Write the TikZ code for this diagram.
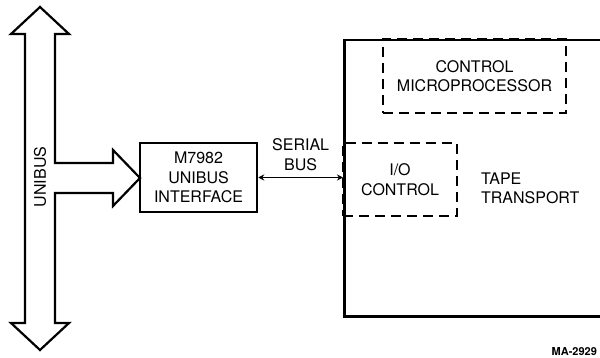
\documentclass[tikz,border=0pt]{standalone}
\usepackage{fontspec}
\setmainfont{TeX Gyre Heros}
\usetikzlibrary{math}
\usetikzlibrary{positioning,arrows.meta,calc}

\tikzset{
  block/.style={draw, line width=2.5pt, align=center, inner sep=0pt},
  dashblock/.style={draw, line width=2.2pt, dash pattern=on 10pt off 6pt, align=center, inner sep=0pt},
}

\begin{document}
\begin{tikzpicture}[x=1pt, y=-1pt, font=\fontsize{16}{19.5}\selectfont, line width=2.2pt]
\useasboundingbox (0,0) rectangle (600,358);

%corner points of the unibus outline
\tikzmath{
\bx=40;        %middle of the bus
\bw=15;        %half width of the shaft
\hw=29;        %half width of the heads
\tipa=7; \tipb=350; \hd=27;   %tips and head length
coordinate \p;
\p1=(\bx,\tipa);
\p2=(\bx+\hw,\tipa+\hd);
\p3=(\bx+\bw,\tipa+\hd);
\p4=(\bx-\hw,\tipa+\hd);
\p5=(\bx-\bw,\tipa+\hd);
\p6=(\bx,\tipb);
\p7=(\bx+\hw,\tipb-\hd);
\p8=(\bx+\bw,\tipb-\hd);
\p9=(\bx-\hw,\tipb-\hd);
\p0=(\bx-\bw,\tipb-\hd);
}

%unibus with its branch into the interface
\draw[line join=miter] (\p1) -- (\p2) -- (\p3) -- (\bx+\bw,163) -- (113,163) -- (113,150)
  -- (140,178) -- (113,206) -- (113,193) -- (\bx+\bw,193) -- (\p8) -- (\p7) -- (\p6)
  -- (\p9) -- (\p0) -- (\p5) -- (\p4) -- cycle;
\node[rotate=90] (buslbl) at (\bx,177) {UNIBUS};

%interface board
\node[block, minimum width=117pt, minimum height=69pt] (iface) at (198.5,177.5) {M7982\\UNIBUS\\INTERFACE};

%parts inside the transport
\node[dashblock, minimum width=183pt, minimum height=74pt] (ctrl) at (474.5,76) {CONTROL\\MICROPROCESSOR};
\node[dashblock, minimum width=114pt, minimum height=73pt] (io) at (400,179.5) {I/O\\CONTROL};

%tape transport, running off the right edge
\node[block, minimum width=320pt, minimum height=276pt, anchor=north west] (tape) at (343,39) {};
\node[align=left, anchor=west, inner sep=0pt] (tapelbl) at (480,188.5) {TAPE\\TRANSPORT};

%serial bus
\draw[{Stealth[length=6pt,width=6pt]}-{Stealth[length=6pt,width=6pt]}, line width=1.6pt]
  (iface.east) -- (iface.east -| tape.west) node[midway, above=3pt, align=center] (serlbl) {SERIAL\\BUS};

\node[anchor=base east, inner sep=0pt, font=\bfseries\fontsize{11}{13}\selectfont] (fig) at (598,355) {MA-2929};

\end{tikzpicture}
\end{document}
